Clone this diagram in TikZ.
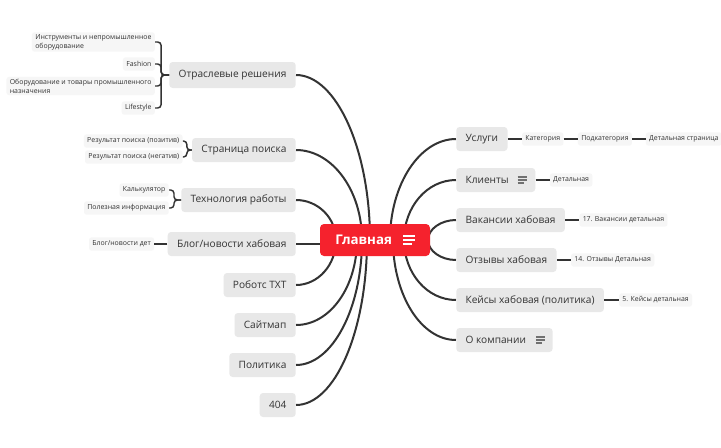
\documentclass[tikz,border=0pt]{standalone}
\usepackage{fontspec}
\setmainfont{Open Sans}
\usetikzlibrary{positioning,calc,backgrounds}

\definecolor{hubred}{RGB}{245,34,45}
\definecolor{topicgray}{RGB}{232,232,232}
\definecolor{leafgray}{RGB}{246,246,246}
\definecolor{inkgray}{RGB}{51,51,51}

\tikzset{
  hub/.style={fill=hubred,rounded corners=3pt,minimum width=82.5pt,minimum height=24pt,
    text=white,font=\bfseries\fontsize{10}{12}\selectfont},
  topic/.style={fill=topicgray,rounded corners=2.5pt,minimum height=18pt,inner xsep=7pt,
    inner ysep=0pt,text=inkgray,font=\fontsize{7.6}{9.5}\selectfont},
  leaf/.style={fill=leafgray,rounded corners=2pt,minimum height=10pt,inner xsep=2.5pt,
    inner ysep=1.5pt,text=inkgray,font=\fontsize{5.2}{6.6}\selectfont,align=left},
  link/.style={draw=inkgray,line width=1.5pt},
  twig/.style={draw=inkgray,line width=1.1pt,rounded corners=2.5pt},
  icon/.style={draw=#1,line width=1pt},
}

% three short lines at the right end of a node
\newcommand\listicon[5]{%
  \draw[icon=#2] ($(#1.east)+(-#3,-#5)$) -- +(#4,0);
  \draw[icon=#2] ($(#1.east)+(-#3,0)$) -- +(#4,0);
  \draw[icon=#2] ($(#1.east)+(-#3,#5)$) -- +(#4*0.7,0);
}

\begin{document}
\begin{tikzpicture}[x=0.75pt,y=-0.75pt]
\useasboundingbox (0,0) rectangle (721,447);

\node[hub] (glav) at (375,240) {Главная\hspace{17pt}\mbox{}};
\listicon{glav}{white}{27}{12}{4}

% left side
\node[topic,anchor=east,minimum height=19.5pt] (otrasl) at (296,75) {Отраслевые решения};
\node[topic,anchor=east] (poisk) at (296,150) {Страница поиска};
\node[topic,anchor=east] (tech) at (296,200) {Технология работы};
\node[topic,anchor=east] (blog) at (296,244) {Блог/новости хабовая};
\node[topic,anchor=east] (robots) at (296,285) {Роботс TXT};
\node[topic,anchor=east] (sitemap) at (296,325) {Сайтмап};
\node[topic,anchor=east] (policy) at (296,365) {Политика};
\node[topic,anchor=east] (err) at (296,405) {404};

\node[leaf,anchor=east] (tools) at ($(otrasl.west)+(-14,-33)$) {Инструменты и непромышленное\\оборудование};
\node[leaf,anchor=east] (fashion) at ($(otrasl.west)+(-14,-11)$) {Fashion};
\node[leaf,anchor=east] (industry) at ($(otrasl.west)+(-14,11)$) {Оборудование и товары промышленного\\назначения};
\node[leaf,anchor=east] (lifestyle) at ($(otrasl.west)+(-14,33)$) {Lifestyle};
\node[leaf,anchor=east] (pos) at ($(poisk.west)+(-9,-9)$) {Результат поиска (позитив)};
\node[leaf,anchor=east] (neg) at ($(poisk.west)+(-9,7)$) {Результат поиска (негатив)};
\node[leaf,anchor=east] (calcpage) at ($(tech.west)+(-12,-10)$) {Калькулятор};
\node[leaf,anchor=east] (useful) at ($(tech.west)+(-12,8)$) {Полезная информация};
\node[leaf,left=9.75pt of blog] (blogdet) {Блог/новости дет};

% right side
\node[topic,anchor=west] (uslugi) at (456,139) {Услуги};
\node[topic,anchor=west] (clients) at (456,180) {Клиенты\hspace{13pt}\mbox{}};
\node[topic,anchor=west] (vacancy) at (456,220) {Вакансии хабовая};
\node[topic,anchor=west] (reviews) at (456,260) {Отзывы хабовая};
\node[topic,anchor=west] (cases) at (456,300) {Кейсы хабовая (политика)};
\node[topic,anchor=west] (about) at (456,340) {О компании\hspace{13pt}\mbox{}};
\listicon{clients}{inkgray!70}{18}{9}{3}
\listicon{about}{inkgray!70}{17}{9}{3}

\node[leaf,right=10.5pt of uslugi] (cat) {Категория};
\node[leaf,right=10.5pt of cat] (subcat) {Подкатегория};
\node[leaf,right=10pt of subcat] (detail) {Детальная страница};
\node[leaf,right=10.5pt of clients] (clientdet) {Детальная};
\node[leaf,right=10.5pt of vacancy] (vacdet) {17. Вакансии детальная};
\node[leaf,right=10.5pt of reviews] (revdet) {14. Отзывы Детальная};
\node[leaf,right=11pt of cases] (casedet) {5. Кейсы детальная};

\begin{scope}[on background layer]
\fill[white] (0,0) rectangle (721,447);
% hub to topics
\draw[link] (otrasl.east) .. controls +(40,0) and +(0,-91) .. ($(glav.center)+(-5,0)$);
\draw[link] (poisk.east) .. controls +(36,0) and +(0,-50) .. ($(glav.center)+(-13,0)$);
\draw[link] (tech.east) .. controls +(22,0) and +(0,-22) .. ($(glav.center)+(-39,0)$);
\draw[link] (blog.east) -- (blog.east -| glav.west);
\draw[link] (robots.east) .. controls +(22,0) and +(0,25) .. ($(glav.center)+(-39,0)$);
\draw[link] (sitemap.east) .. controls +(34,0) and +(0,47) .. ($(glav.center)+(-18,0)$);
\draw[link] (policy.east) .. controls +(36,0) and +(0,69) .. ($(glav.center)+(-13,0)$);
\draw[link] (err.east) .. controls +(39,0) and +(0,91) .. ($(glav.center)+(-8,0)$);
\draw[link] (uslugi.west) .. controls +(-36,0) and +(0,-56) .. ($(glav.center)+(15,0)$);
\draw[link] (clients.west) .. controls +(-29,0) and +(0,-33) .. ($(glav.center)+(29,0)$);
\draw[link] (vacancy.west) .. controls +(-15,0) and +(0,-11) .. ($(glav.center)+(53,0)$);
\draw[link] (reviews.west) .. controls +(-15,0) and +(0,11) .. ($(glav.center)+(53,0)$);
\draw[link] (cases.west) .. controls +(-29,0) and +(0,33) .. ($(glav.center)+(29,0)$);
\draw[link] (about.west) .. controls +(-35,0) and +(0,55) .. ($(glav.center)+(18,0)$);
\end{scope}

% topics to leaves
\foreach \leafname in {tools,fashion,industry,lifestyle}
  \draw[twig] (otrasl.west) -- ++(-8,0) |- (\leafname.east);
\foreach \leafname in {pos,neg}
  \draw[twig] (poisk.west) -- ++(-5,0) |- (\leafname.east);
\foreach \leafname in {calcpage,useful}
  \draw[twig] (tech.west) -- ++(-7,0) |- (\leafname.east);
\draw[twig] (blog) -- (blogdet);
\draw[twig] (uslugi) -- (cat);
\draw[twig] (cat) -- (subcat);
\draw[twig] (subcat) -- (detail);
\draw[twig] (clients) -- (clientdet);
\draw[twig] (vacancy) -- (vacdet);
\draw[twig] (reviews) -- (revdet);
\draw[twig] (cases) -- (casedet);
\end{tikzpicture}
\end{document}
